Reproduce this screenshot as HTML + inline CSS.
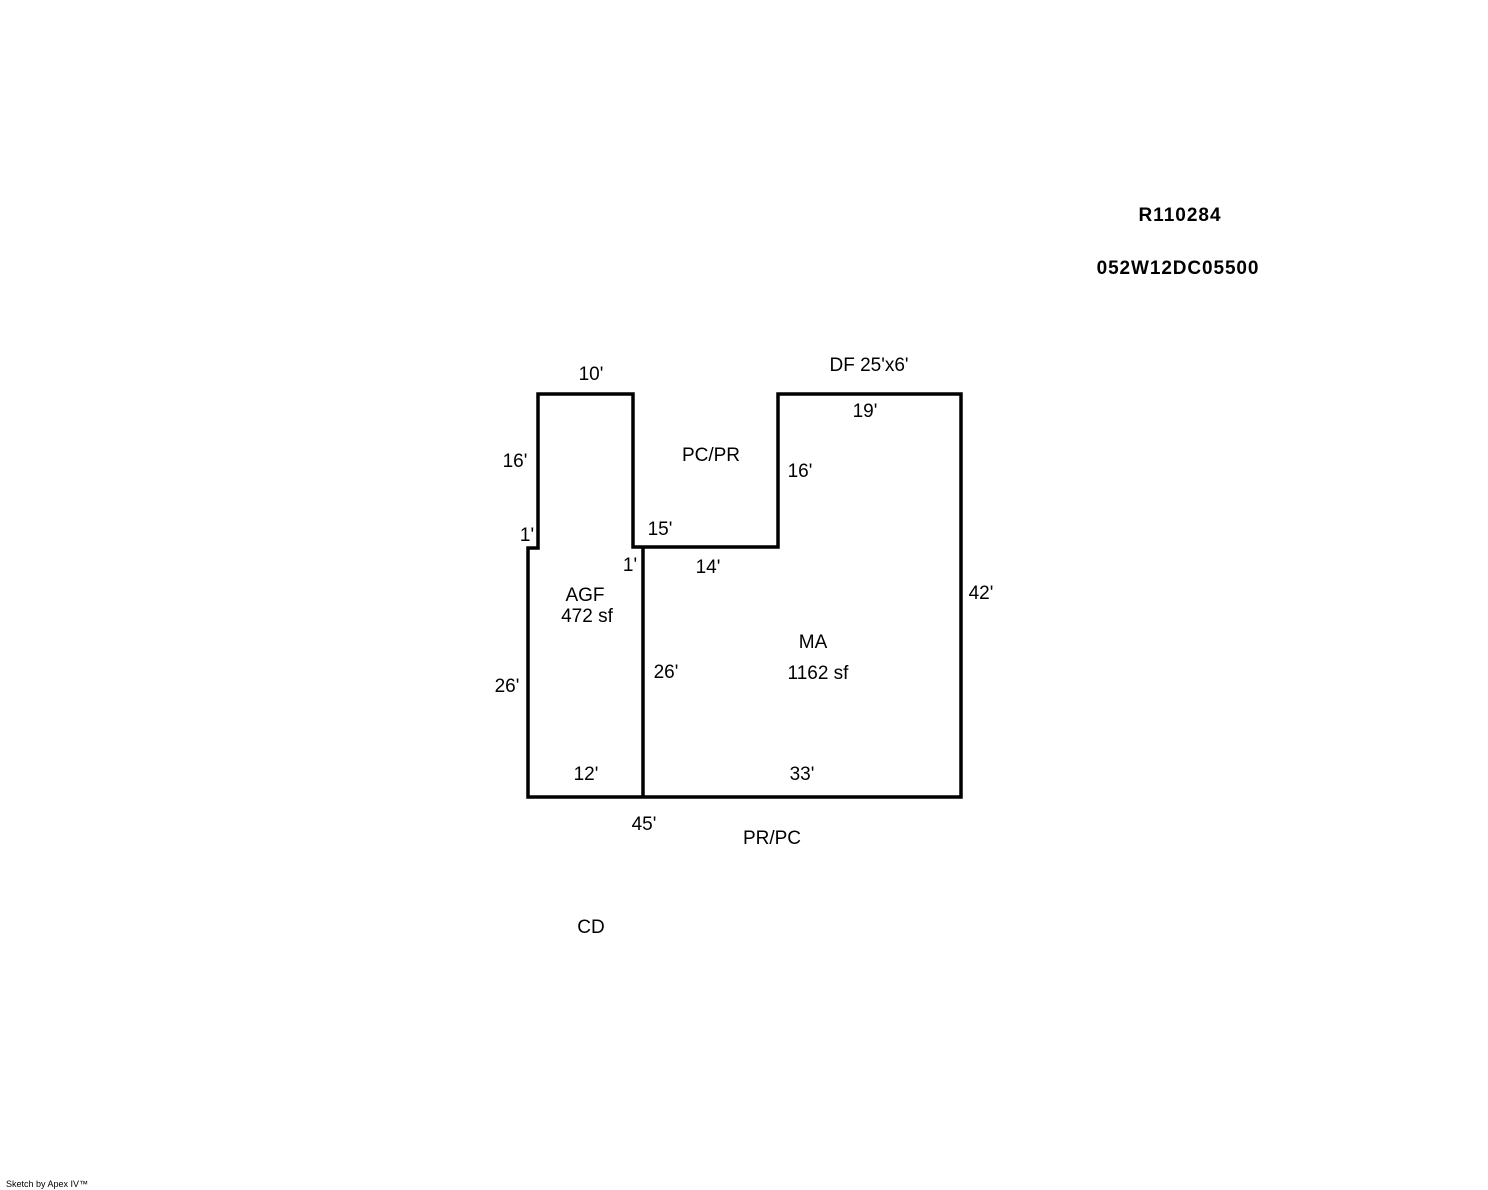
<!DOCTYPE html>
<html><head><style>
html,body{margin:0;padding:0;background:#fff;}
body{width:1488px;height:1190px;position:relative;overflow:hidden;}
svg{position:absolute;left:0;top:0;}
text{font-family:"Liberation Sans",Arial,sans-serif;font-size:19px;fill:#000;}
</style></head><body>
<svg width="1488" height="1190" xmlns="http://www.w3.org/2000/svg">
<g fill="none" stroke="#000" stroke-width="3.5" stroke-linejoin="miter">
<path d="M538,394 H633 V547 H778 V394 H961 V797 H528 V548 H538 Z"/>
<path d="M643,547 V797"/>
</g>
<g text-anchor="middle">
<text x="1180" y="221" font-weight="bold" style="font-size:19px;letter-spacing:1px">R110284</text>
<text x="1178" y="274" font-weight="bold" style="font-size:19px;letter-spacing:0.9px">052W12DC05500</text>
<text x="591" y="380">10'</text>
<text x="869" y="371">DF 25'x6'</text>
<text x="865" y="417">19'</text>
<text x="515" y="467">16'</text>
<text x="711" y="461">PC/PR</text>
<text x="800" y="477">16'</text>
<text x="527" y="541">1'</text>
<text x="660" y="535">15'</text>
<text x="630" y="571">1'</text>
<text x="708" y="573">14'</text>
<text x="981" y="599">42'</text>
<text x="585" y="601">AGF</text>
<text x="587" y="622">472 sf</text>
<text x="813" y="648">MA</text>
<text x="818" y="679">1162 sf</text>
<text x="666" y="678">26'</text>
<text x="507" y="692">26'</text>
<text x="586" y="780">12'</text>
<text x="802" y="780">33'</text>
<text x="644" y="830">45'</text>
<text x="772" y="844">PR/PC</text>
<text x="591" y="933">CD</text>
</g>
<text x="6" y="1187" style="font-size:9px">Sketch by Apex IV™</text>
</svg>
</body></html>
